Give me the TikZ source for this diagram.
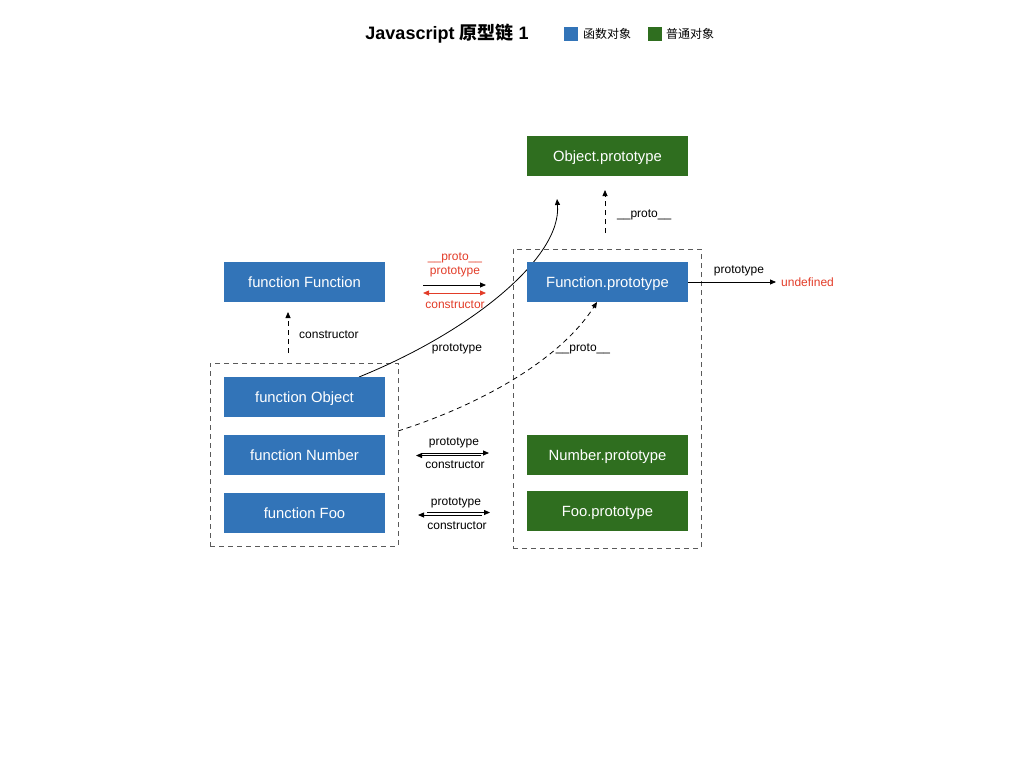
\documentclass[tikz,border=0pt]{standalone}
\usepackage{fontspec}
\setmainfont{Liberation Sans}
\newfontfamily\cjk{Noto Sans CJK SC}
\usetikzlibrary{arrows.meta}
\definecolor{fnblue}{RGB}{50,116,184}
\definecolor{objgreen}{RGB}{47,110,31}
\definecolor{redtxt}{RGB}{226,60,40}
\definecolor{boxgray}{RGB}{90,90,90}
\begin{document}
\begin{tikzpicture}[x=1pt,y=-1pt,
  fnbox/.style={fill=fnblue,text=white,minimum width=161pt,minimum height=40pt,inner sep=0pt,text height=12.5pt,text depth=1.5pt,font=\fontsize{14.8}{16}\selectfont},
  objbox/.style={fnbox,fill=objgreen},
  grp/.style={draw=boxgray,dash pattern=on 5pt off 4pt,line width=0.8pt},
  lbl/.style={font=\fontsize{12}{14}\selectfont,inner sep=0pt,text height=9.8pt,text depth=1.4pt},
  rlbl/.style={lbl,text=redtxt},
  arr/.style={-{Triangle[length=6pt,width=5pt]},line width=0.8pt},
  darr/.style={{Triangle[length=6pt,width=5pt]}-{Triangle[length=6pt,width=5pt]},line width=0.8pt},
  dasharr/.style={arr,dash pattern=on 5pt off 4pt}
]
\useasboundingbox (0,0) rectangle (1024,768);
% title and legend
\node[font=\fontsize{18}{20}\selectfont\bfseries,inner sep=0pt,text height=14pt,text depth=2pt] (title) at (447,34) {Javascript {\cjk 原型链} 1};
\node[fill=fnblue,minimum size=14pt,inner sep=0pt] (legb) at (571,34) {};
\node[anchor=west,inner sep=0pt,font=\cjk\fontsize{12}{14}\selectfont] (legbt) at (583,34) {函数对象};
\node[fill=objgreen,minimum size=14pt,inner sep=0pt] (legg) at (655,34) {};
\node[anchor=west,inner sep=0pt,font=\cjk\fontsize{12}{14}\selectfont] (leggt) at (666,34) {普通对象};
% group boxes
\node[grp,minimum width=188pt,minimum height=183pt,inner sep=0pt] (lgrp) at (304,454.5) {};
\node[grp,minimum width=188pt,minimum height=299pt,inner sep=0pt] (rgrp) at (607,398.5) {};
% curve behind boxes
\coordinate (cstart) at (359,377);
\coordinate (cend) at (557,199);
\draw[arr] (cstart) .. controls (470,332) and (562,258) .. (cend);
% boxes
\node[fnbox] (ffun) at (304.5,282) {function Function};
\node[fnbox] (fobj) at (304.5,397) {function Object};
\node[fnbox] (fnum) at (304.5,455) {function Number};
\node[fnbox] (ffoo) at (304.5,513) {function Foo};
\node[objbox] (oproto) at (607.5,156) {Object.prototype};
\node[fnbox] (fproto) at (607.5,282) {Function.prototype};
\node[objbox] (nproto) at (607.5,455) {Number.prototype};
\node[objbox] (fooproto) at (607.5,511) {Foo.prototype};
% constructor dashed arrow
\coordinate (c1a) at (288,353);
\coordinate (c1b) at (288,312);
\draw[dasharr] (c1a) -- (c1b);
\node[lbl,anchor=west] (c1l) at (299,334) {constructor};
% proto dashed arrow
\coordinate (p1a) at (605,233);
\coordinate (p1b) at (605,190);
\draw[dasharr] (p1a) -- (p1b);
\node[lbl,anchor=west] (p1l) at (617,213) {\_\_proto\_\_};
% labels for curve
\node[lbl] (cl) at (457,347) {prototype};
% dashed curve
\coordinate (dstart) at (398,431);
\coordinate (dend) at (597,302);
\draw[dasharr] (dstart) .. controls (480,405) and (560,360) .. (dend);
\node[lbl] (dl) at (583,347) {\_\_proto\_\_};
% undefined
\node[rlbl,anchor=west] (undef) at (781,282) {undefined};
\coordinate (uend) at (776,282);
\draw[arr] (fproto.east) -- (uend);
\node[lbl] (ul) at (739,269) {prototype};
% middle top arrows
\node[rlbl] (m1) at (455,256) {\_\_proto\_\_};
\node[rlbl] (m2) at (455,270) {prototype};
\coordinate (ma1) at (423,285);
\coordinate (mb1) at (486,285);
\draw[arr] (ma1) -- (mb1);
\coordinate (ma2) at (423,293);
\coordinate (mb2) at (486,293);
\draw[darr,redtxt] (ma2) -- (mb2);
\node[rlbl] (m3) at (455,304) {constructor};
% number arrows
\node[lbl] (n1) at (454,441) {prototype};
\coordinate (na1) at (422,453);
\coordinate (nb1) at (489,453);
\draw[arr] (na1) -- (nb1);
\coordinate (na2) at (416,455.5);
\coordinate (nb2) at (481,455.5);
\draw[arr] (nb2) -- (na2);
\node[lbl] (n2) at (455,464) {constructor};
% foo arrows
\node[lbl] (f1) at (456,501) {prototype};
\coordinate (fa1) at (427,512.5);
\coordinate (fb1) at (490,512.5);
\draw[arr] (fa1) -- (fb1);
\coordinate (fa2) at (418,515);
\coordinate (fb2) at (482,515);
\draw[arr] (fb2) -- (fa2);
\node[lbl] (f2) at (457,525) {constructor};
\end{tikzpicture}
\end{document}
